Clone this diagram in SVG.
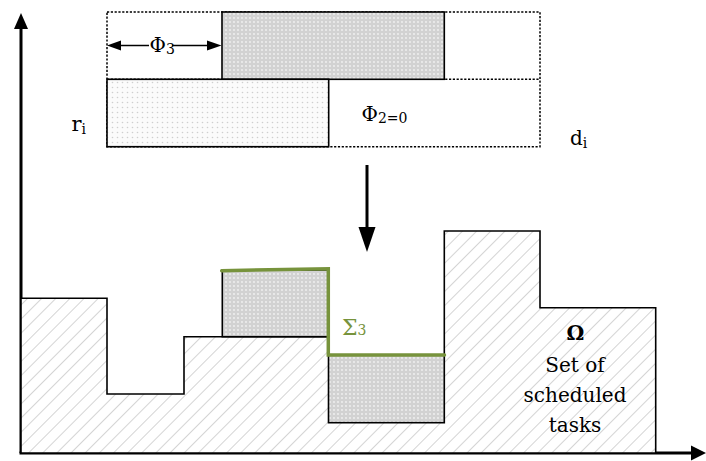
<svg xmlns="http://www.w3.org/2000/svg" width="706" height="461" viewBox="0 0 706 461">
  <defs>
    <!-- fine grey texture for the placed task boxes -->
    <pattern id="greyDots" width="4" height="4" patternUnits="userSpaceOnUse">
      <rect width="4" height="4" fill="#d2d2d2"/>
      <circle cx="2" cy="2" r="0.9" fill="#f2f2f2"/>
    </pattern>
    <!-- sparse light dots for the unplaced task -->
    <pattern id="lightDots" width="5" height="5" patternUnits="userSpaceOnUse">
      <rect width="5" height="5" fill="#fbfbfb"/>
      <circle cx="2.5" cy="2.5" r="0.8" fill="#cfcfcf"/>
    </pattern>
    <!-- diagonal hatch for the scheduled set -->
    <pattern id="hatch" width="10" height="10" patternUnits="userSpaceOnUse" patternTransform="rotate(45)">
      <rect width="10" height="10" fill="#ffffff"/>
      <line x1="0" y1="0" x2="0" y2="10" stroke="#bdbdbd" stroke-width="1.3"/>
    </pattern>
  </defs>
  <style>
    .dotted { fill: none; stroke: #000; stroke-width: 1.5; stroke-dasharray: 2.2 1.6; }
    .solid { stroke: #000; stroke-width: 1.6; }
    .green { fill: none; stroke: #77933C; stroke-width: 3.5; stroke-linecap: round; stroke-linejoin: miter; }
    .lbl { font-family: "DejaVu Serif", "Liberation Serif", serif; fill: #000; }
  </style>

  <!-- axes -->
  <g id="axes" stroke="#000" stroke-width="3" fill="none">
    <line x1="21" y1="453" x2="21" y2="28" />
    <path d="M14,29 L21,13 L28,29 Z" fill="#000" stroke="none"/>
    <line x1="19.5" y1="453" x2="692" y2="453" />
    <path d="M691,445.5 L706,453 L691,460.5 Z" fill="#000" stroke="none"/>
  </g>

  <!-- task window between r_i and d_i -->
  <g id="window">
    <rect x="107" y="12" width="433" height="134.7" class="dotted"/>
    <line x1="107" y1="79.3" x2="540" y2="79.3" class="dotted"/>
  </g>

  <g id="task-upper">
    <rect x="222" y="12" width="222.3" height="67.3" fill="url(#greyDots)" class="solid"/>
  </g>

  <g id="task-lower">
    <rect x="107" y="79.3" width="221.7" height="67.4" fill="url(#lightDots)" class="solid"/>
  </g>

  <!-- scheduled set Omega -->
  <g id="omega">
    <path d="M21,298.3 H107 V394 H184 V336.7 H328.5 V355 H444.3 V231 H540 V307.7 H655.7 V453 H21 Z"
          fill="url(#hatch)" class="solid"/>
  </g>

  <g id="placed-upper">
    <rect x="222.3" y="270" width="106.2" height="66.7" fill="url(#greyDots)" class="solid"/>
  </g>

  <g id="placed-lower">
    <rect x="328.5" y="355" width="115.8" height="67.7" fill="url(#greyDots)" class="solid"/>
  </g>

  <!-- Sigma_3 profile -->
  <g id="sigma-profile">
    <polyline points="221.7,270.7 328.3,268.8 328.3,355 444.5,355" class="green"/>
  </g>

  <!-- connectors -->
  <g id="connectors" stroke="#000" fill="none">
    <line x1="367" y1="165" x2="367" y2="228" stroke-width="3"/>
    <path d="M358.5,227 L367,252 L375.5,227 Z" fill="#000" stroke="none"/>
    <line x1="118" y1="45.5" x2="149" y2="45.5" stroke-width="1.5"/>
    <line x1="172" y1="45.5" x2="208" y2="45.5" stroke-width="1.5"/>
    <path d="M121,40.5 L107,45.5 L121,50.5 Z" fill="#000" stroke="none"/>
    <path d="M207,40.5 L221.5,45.5 L207,50.5 Z" fill="#000" stroke="none"/>
  </g>

  <!-- labels -->
  <g id="labels" class="lbl">
    <text x="149.5" y="51.5" font-size="20" class="lbl">Φ<tspan font-size="14" dy="2.5">3</tspan></text>
    <text x="71.5" y="131" font-size="21" class="lbl">r<tspan font-size="14" dy="3">i</tspan></text>
    <text x="361.5" y="120.5" font-size="20" class="lbl">Φ<tspan font-size="14" dy="2.5">2=0</tspan></text>
    <text x="570" y="145" font-size="20" class="lbl">d<tspan font-size="14" dy="3">i</tspan></text>
    <text x="342" y="335" font-size="22" class="lbl" style="fill:#77933C">Σ<tspan font-size="14" dy="0">3</tspan></text>
    <text x="575.5" y="340" font-size="20" font-weight="bold" text-anchor="middle" class="lbl">Ω</text>
    <text x="575" y="371.5" font-size="20" text-anchor="middle" class="lbl">Set of</text>
    <text x="575" y="401.5" font-size="20" text-anchor="middle" class="lbl">scheduled</text>
    <text x="575" y="431.5" font-size="20" text-anchor="middle" class="lbl">tasks</text>
  </g>
</svg>
